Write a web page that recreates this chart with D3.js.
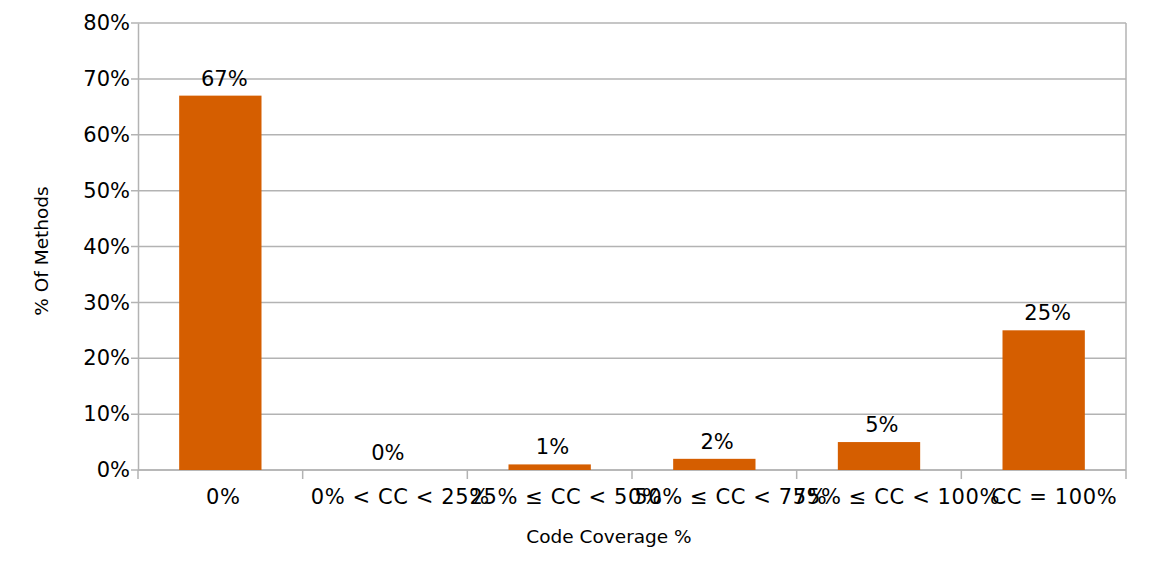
<!DOCTYPE html>
<html>
<head>
<meta charset="utf-8">
<script src="https://cdn.jsdelivr.net/npm/d3@7"></script>
<style>
  body { margin: 0; background: #fff; }
  text { font-family: "DejaVu Sans", Verdana, sans-serif; fill: #000; }
</style>
</head>
<body>
<div id="chart"></div>
<script>
// data
var categories = ["0%", "0% < CC < 25%", "25% \u2264 CC < 50%", "50% \u2264 CC < 75%", "75% \u2264 CC < 100%", "CC = 100%"];
var values = [67, 0, 1, 2, 5, 25];
var yTicks = [0, 10, 20, 30, 40, 50, 60, 70, 80];

var width = 1149, height = 578;
var margin = {top: 23, right: 23, bottom: 108, left: 138};
var w = width - margin.left - margin.right,
    h = height - margin.top - margin.bottom;

var svg = d3.select("#chart").append("svg")
    .attr("width", width)
    .attr("height", height);

var g = svg.append("g")
    .attr("transform", "translate(" + margin.left + "," + margin.top + ")");

var x = d3.scaleBand()
    .domain(categories)
    .range([0, w])
    .paddingInner(0.5)
    .paddingOuter(0.25);

var xb = d3.scaleLinear()
    .domain([0, categories.length])
    .range([0, w]);

var y = d3.scaleLinear()
    .domain([0, 80])
    .range([h, 0]);

// the original nudges its centred labels a little to the right
function nudge(sel) {
    sel.attr("dx", function () { return this.getComputedTextLength() * 0.085; });
}

// gridlines
g.selectAll(".grid")
    .data(yTicks)
    .enter().append("line")
    .attr("class", "grid")
    .attr("x1", -7)
    .attr("x2", w)
    .attr("y1", function (d) { return y(d); })
    .attr("y2", function (d) { return y(d); })
    .attr("stroke", "#b3b3b3")
    .attr("stroke-width", 1.5);

// right border
g.append("line")
    .attr("x1", w).attr("x2", w)
    .attr("y1", 0).attr("y2", h)
    .attr("stroke", "#b3b3b3")
    .attr("stroke-width", 1.5);

// y axis
var yAxis = d3.axisLeft(y)
    .tickValues(yTicks)
    .tickSize(0)
    .tickPadding(8)
    .tickFormat(function (d) { return d + "%"; });

var yAxisGroup = g.append("g").call(yAxis);
yAxisGroup.select(".domain").attr("stroke", "#b3b3b3").attr("stroke-width", 1.5);
yAxisGroup.selectAll("text").style("font-size", "21px");

// x axis line + boundary ticks
g.append("line")
    .attr("x1", 0).attr("x2", w)
    .attr("y1", h).attr("y2", h)
    .attr("stroke", "#b3b3b3")
    .attr("stroke-width", 1.5);

g.selectAll(".xtick")
    .data(d3.range(categories.length + 1))
    .enter().append("line")
    .attr("class", "xtick")
    .attr("x1", function (d) { return xb(d); })
    .attr("x2", function (d) { return xb(d); })
    .attr("y1", h)
    .attr("y2", h + 9)
    .attr("stroke", "#b3b3b3")
    .attr("stroke-width", 1.5);

g.selectAll(".xlabel")
    .data(categories)
    .enter().append("text")
    .attr("class", "xlabel")
    .attr("x", function (d) { return x(d) + x.bandwidth() / 2; })
    .attr("y", h + 34)
    .attr("text-anchor", "middle")
    .style("font-size", "21px")
    .style("letter-spacing", "0.6px")
    .text(function (d) { return d; })
    .call(nudge);

// bars
g.selectAll(".bar")
    .data(values)
    .enter().append("rect")
    .attr("class", "bar")
    .attr("x", function (d, i) { return x(categories[i]); })
    .attr("y", function (d) { return y(d); })
    .attr("width", x.bandwidth())
    .attr("height", function (d) { return h - y(d); })
    .attr("fill", "#d55e00");

// value labels
g.selectAll(".val")
    .data(values)
    .enter().append("text")
    .attr("class", "val")
    .attr("x", function (d, i) { return x(categories[i]) + x.bandwidth() / 2; })
    .attr("y", function (d) { return y(d) - 10; })
    .attr("text-anchor", "middle")
    .style("font-size", "21px")
    .text(function (d) { return d + "%"; })
    .call(nudge);

// axis titles
svg.append("text")
    .attr("transform", "translate(48,251) rotate(-90)")
    .attr("text-anchor", "middle")
    .style("font-size", "18.5px")
    .text("% Of Methods");

svg.append("text")
    .attr("x", 609)
    .attr("y", 543)
    .attr("text-anchor", "middle")
    .style("font-size", "18.5px")
    .text("Code Coverage %");
</script>
</body>
</html>
